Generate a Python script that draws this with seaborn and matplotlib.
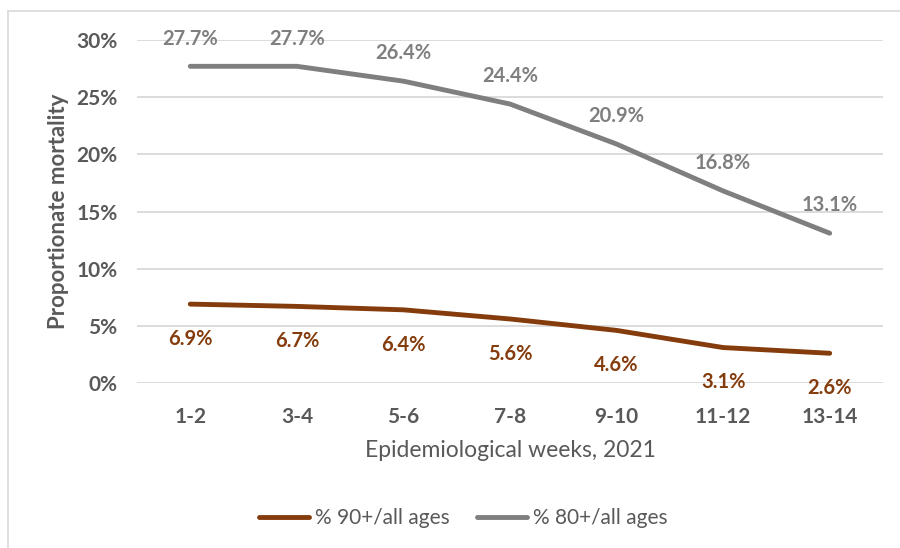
import matplotlib

matplotlib.use("Agg")

import matplotlib.pyplot as plt
import pandas as pd
import seaborn as sns
from matplotlib.lines import Line2D
from matplotlib.ticker import FuncFormatter

WEEKS = ["1-2", "3-4", "5-6", "7-8", "9-10", "11-12", "13-14"]
SHARE_80 = [27.7, 27.7, 26.4, 24.4, 20.9, 16.8, 13.1]
SHARE_90 = [6.9, 6.7, 6.4, 5.6, 4.6, 3.1, 2.6]
LABEL_90 = "% 90+/all ages"
LABEL_80 = "% 80+/all ages"

BROWN = "#843C0C"
GREY = "#7F7F7F"
TEXT = "#595959"

sns.set_theme(style="white")
plt.rcParams["font.family"] = ["Lato", "DejaVu Sans"]

frame = pd.DataFrame(
    {
        "week": WEEKS * 2,
        "pos": list(range(len(WEEKS))) * 2,
        "share": SHARE_90 + SHARE_80,
        "series": [LABEL_90] * len(WEEKS) + [LABEL_80] * len(WEEKS),
    }
)

fig = plt.figure(figsize=(9, 5.48), dpi=100)
ax = fig.add_axes([0.1522, 0.3011, 0.8289, 0.6259])

sns.lineplot(
    data=frame,
    x="pos",
    y="share",
    hue="series",
    palette={LABEL_90: BROWN, LABEL_80: GREY},
    linewidth=3.5,
    legend=False,
    ax=ax,
)
for line in ax.lines:
    line.set_solid_capstyle("round")

# data labels: 80+ above the line, 90+ below
for x, v in enumerate(SHARE_80):
    ax.annotate(f"{v:.1f}%", (x, v), xytext=(0, 20), textcoords="offset points",
                ha="center", va="center", color=GREY, fontsize=14.5, fontweight="bold")
for x, v in enumerate(SHARE_90):
    ax.annotate(f"{v:.1f}%", (x, v), xytext=(0, -25), textcoords="offset points",
                ha="center", va="center", color=BROWN, fontsize=14.5, fontweight="bold")

ax.set_xlim(-0.5, len(WEEKS) - 0.5)
ax.set_ylim(0, 30)
ax.set_yticks(range(0, 31, 5))
ax.yaxis.set_major_formatter(FuncFormatter(lambda v, _: f"{v:.0f}%"))
ax.set_xticks(range(len(WEEKS)))
ax.set_xticklabels(WEEKS)
ax.grid(axis="y", color="#D9D9D9", linewidth=1.3)
ax.set_axisbelow(True)
for side in ax.spines.values():
    side.set_visible(False)
ax.tick_params(axis="both", length=0, labelsize=15, labelcolor=TEXT)
ax.tick_params(axis="x", pad=17)
ax.tick_params(axis="y", pad=14)
for lbl in ax.get_xticklabels() + ax.get_yticklabels():
    lbl.set_fontweight("bold")

ax.set_xlabel("Epidemiological weeks, 2021", fontsize=16.5, color=TEXT, labelpad=10)
ax.set_ylabel("Proportionate mortality", fontsize=16, color=TEXT, fontweight="bold",
              labelpad=5)

handles = [
    Line2D([], [], color=BROWN, linewidth=3.5, solid_capstyle="round"),
    Line2D([], [], color=GREY, linewidth=3.5, solid_capstyle="round"),
]
fig.legend(handles, [LABEL_90, LABEL_80], loc="center", bbox_to_anchor=(0.515, 0.054),
           ncol=2, frameon=False, fontsize=15, labelcolor=TEXT, handlelength=2.4,
           handletextpad=0.3, columnspacing=1.3)

# chart-area frame (top and left edges visible in the crop)
fig.add_artist(Line2D([8 / 900, 8 / 900], [0, 1 - 11 / 548], color="#D9D9D9",
                      linewidth=1.2, transform=fig.transFigure))
fig.add_artist(Line2D([8 / 900, 1], [1 - 11 / 548, 1 - 11 / 548], color="#D9D9D9",
                      linewidth=1.2, transform=fig.transFigure))

fig.savefig("out.png", dpi=100)
